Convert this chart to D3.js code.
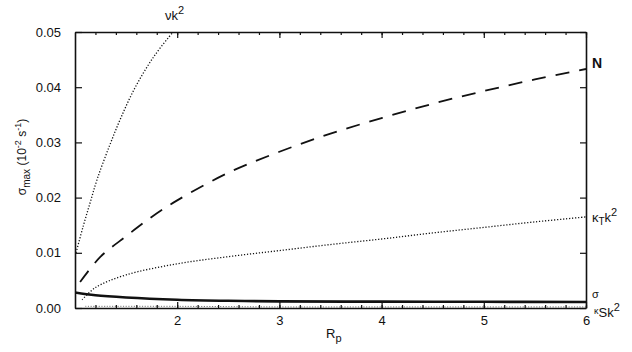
<!DOCTYPE html>
<html><head><meta charset="utf-8">
<script src="https://cdn.jsdelivr.net/npm/d3@7"></script>
<style>
body{margin:0;background:#fff;}
text{font-family:"Liberation Sans",Arial,sans-serif;fill:#111;}
</style></head>
<body><svg id="c" width="632" height="352"></svg>
<script>
// Data
const xTicks = [2, 3, 4, 5, 6];
const yTicks = [0.00, 0.01, 0.02, 0.03, 0.04, 0.05];
const nuX = [1.01, 1.08, 1.15, 1.22, 1.34, 1.45, 1.59, 1.77, 1.96, 2.0];
const nuY = [0.0100, 0.0148, 0.0192, 0.0235, 0.0295, 0.0345, 0.0400, 0.0455, 0.0500, 0.0508];
const nX = [1.05, 1.25, 1.5, 1.75, 2, 2.5, 3, 3.5, 4, 4.5, 5, 5.5, 6];
const nY = [0.0047, 0.0093, 0.013, 0.0165, 0.0195, 0.0245, 0.0283, 0.0316, 0.0344, 0.037, 0.0393, 0.0414, 0.0433];
const kTX = [1.07, 1.2, 1.5, 2, 2.5, 3, 3.5, 4, 4.5, 5, 5.5, 6];
const kTY = [0.0015, 0.0037, 0.006, 0.008, 0.0093, 0.0104, 0.0115, 0.0125, 0.0136, 0.0146, 0.0156, 0.0165];
const sX = [1.0, 1.2, 1.5, 2, 2.5, 3, 4, 5, 6];
const sY = [0.0028, 0.0023, 0.0019, 0.0015, 0.0013, 0.0012, 0.00115, 0.00112, 0.0011];
const kSX = [1.1, 2, 3, 4, 5, 6];
const kSY = [0.0003, 0.0003, 0.0002, 0.0002, 0.0002, 0.0002];

const svg = d3.select("#c");
const L = 75, R = 586, T = 32, B = 308;
const x = d3.scaleLinear().domain([1, 6]).range([L, R]);
const y = d3.scaleLinear().domain([0, 0.05]).range([B, T]);

svg.append("defs").append("clipPath").attr("id","clip")
  .append("rect").attr("x", L).attr("y", T).attr("width", R-L).attr("height", B-T);

const zip = (a, b) => a.map((v, i) => [v, b[i]]);
const line = d3.line().x(d => x(d[0])).y(d => y(d[1])).curve(d3.curveCatmullRom.alpha(0.5));
const g = svg.append("g").attr("clip-path", "url(#clip)");

g.append("path").attr("d", line(zip(nuX, nuY))).attr("fill","none").attr("stroke","#111")
  .attr("stroke-width",1.3).attr("stroke-dasharray","1.2,1.8");
g.append("path").attr("d", line(zip(nX, nY))).attr("fill","none").attr("stroke","#111")
  .attr("stroke-width",1.8).attr("stroke-dasharray","14,10");
g.append("path").attr("d", line(zip(kTX, kTY))).attr("fill","none").attr("stroke","#111")
  .attr("stroke-width",1.3).attr("stroke-dasharray","1.2,1.8");
g.append("path").attr("d", line(zip(kSX, kSY))).attr("fill","none").attr("stroke","#777")
  .attr("stroke-width",1).attr("stroke-dasharray","1.2,1.5");
g.append("path").attr("d", line(zip(sX, sY))).attr("fill","none").attr("stroke","#111")
  .attr("stroke-width",2.6);

// Axes
const minor = d3.range(1.2, 6.0001, 0.2);
svg.append("g").attr("transform", `translate(0,${B})`)
  .call(d3.axisBottom(x).tickValues(xTicks).tickFormat(d3.format("d")).tickSizeInner(-6).tickSizeOuter(0).tickPadding(8));
svg.append("g").attr("transform", `translate(0,${T})`)
  .call(d3.axisTop(x).tickValues(xTicks).tickFormat("").tickSizeInner(-6).tickSizeOuter(0));
svg.append("g").attr("transform", `translate(${L},0)`)
  .call(d3.axisLeft(y).tickValues(yTicks).tickFormat(d3.format(".2f")).tickSizeInner(-7).tickSizeOuter(0).tickPadding(14));
svg.append("g").attr("transform", `translate(${R},0)`)
  .call(d3.axisRight(y).tickValues(yTicks).tickFormat("").tickSizeInner(-6).tickSizeOuter(0));
svg.append("g").attr("transform", `translate(0,${B})`)
  .call(d3.axisBottom(x).tickValues(minor).tickFormat("").tickSizeInner(-3).tickSizeOuter(0))
  .select(".domain").remove();
svg.append("g").attr("transform", `translate(0,${T})`)
  .call(d3.axisTop(x).tickValues(minor).tickFormat("").tickSizeInner(-3).tickSizeOuter(0))
  .select(".domain").remove();
svg.selectAll(".domain").attr("stroke","#111").attr("stroke-width",1.6);
svg.selectAll(".tick line").attr("stroke","#111").attr("stroke-width",1.2);
svg.selectAll(".tick text").attr("font-size",13).attr("font-family","Liberation Sans, Arial, sans-serif").attr("fill","#111");

// Axis titles
const xt = svg.append("text").attr("x", 326).attr("y", 338).attr("font-size", 13);
xt.append("tspan").text("R");
xt.append("tspan").attr("font-size", 11).attr("dy", 4).text("p");

const yt = svg.append("text").attr("transform", "translate(26,157) rotate(-90)")
  .attr("text-anchor", "middle").attr("font-size", 12);
yt.append("tspan").text("σ");
yt.append("tspan").attr("font-size", 10).attr("dy", 4).text("max");
yt.append("tspan").attr("dy", -4).text("   (10");
yt.append("tspan").attr("font-size", 9).attr("dy", -5).text("-2");
yt.append("tspan").attr("dy", 5).text(" s");
yt.append("tspan").attr("font-size", 9).attr("dy", -5).text("-1");
yt.append("tspan").attr("dy", 5).text(")");

// Series labels
const nu = svg.append("text").attr("x", 165).attr("y", 20).attr("font-size", 13);
nu.append("tspan").text("νk");
nu.append("tspan").attr("font-size", 11).attr("dy", -6).text("2");

svg.append("text").attr("x", 592).attr("y", 68).attr("font-size", 14).attr("font-weight","bold").text("N");

const kt = svg.append("text").attr("x", 592).attr("y", 222).attr("font-size", 13);
kt.append("tspan").text("κ");
kt.append("tspan").attr("font-size", 10).attr("dy", 3).text("T");
kt.append("tspan").attr("dy", -3).text("k");
kt.append("tspan").attr("font-size", 11).attr("dy", -6).text("2");

svg.append("text").attr("x", 592).attr("y", 298).attr("font-size", 11).text("σ");
const ks = svg.append("text").attr("x", 594).attr("y", 317).attr("font-size", 13);
ks.append("tspan").attr("font-size", 9).attr("dy", -3).text("κ");
ks.append("tspan").attr("dy", 3).text("S");
ks.append("tspan").text("k");
ks.append("tspan").attr("font-size", 11).attr("dy", -6).text("2");
</script></body></html>
